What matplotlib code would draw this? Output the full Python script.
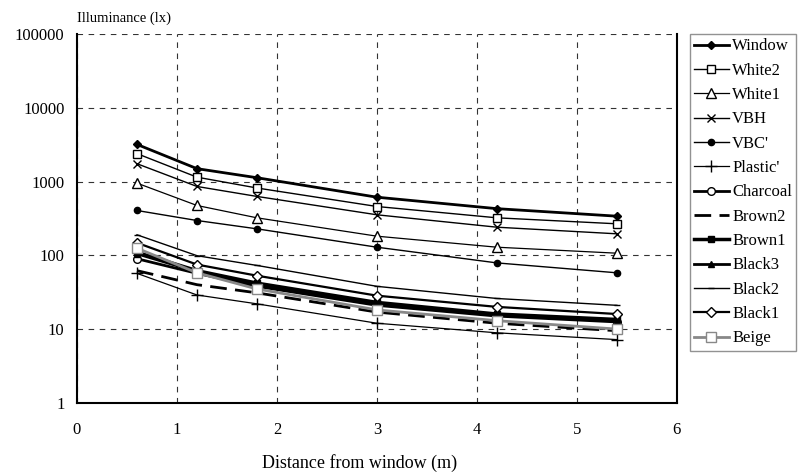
import numpy as np
import matplotlib.pyplot as plt

plt.rcParams['font.family'] = ['Liberation Serif', 'DejaVu Serif']

# Distance from window (m)
dist = [0.6, 1.2, 1.8, 3.0, 4.2, 5.4]

# Illuminance (lx) for each case
window = [3200, 1500, 1130, 615, 430, 340]
white2 = [2400, 1150, 820, 460, 323, 268]
white1 = [955, 475, 323, 182, 129, 107]
vbh = [1750, 860, 630, 355, 241, 196]
vbc = [406, 297, 229, 129, 79, 58]
plastic = [57, 29, 22, 12, 8.9, 7.2]
charcoal = [90, 57, 38, 21, 15, 12.5]
brown2 = [62, 40, 31, 17, 12, 9.5]
brown1 = [110, 62, 42, 23, 16, 13.5]
black3 = [105, 60, 40, 22, 15.5, 13]
black2 = [190, 99, 73, 38, 26, 21]
black1 = [148, 75, 53, 28.4, 20, 16]
beige = [125, 58, 35, 18.2, 13, 10]

fig = plt.figure(figsize=(8.02, 4.75), dpi=100)
ax = fig.add_axes([0.096, 0.152, 0.748, 0.776])

k = dict(color='black')
ax.plot(dist, window, marker='D', ms=4.5, lw=2, label='Window', **k)
ax.plot(dist, white2, marker='s', ms=6, mfc='white', lw=1, label='White2', **k)
ax.plot(dist, white1, marker='^', ms=6.5, mfc='white', lw=0.9, label='White1', **k)
ax.plot(dist, vbh, marker='x', ms=6, lw=1, label='VBH', **k)
ax.plot(dist, vbc, marker='o', ms=4.5, lw=1, label="VBC'", **k)
ax.plot(dist, plastic, marker='+', ms=8, lw=0.9, label="Plastic'", **k)
ax.plot(dist, charcoal, marker='o', ms=5.5, mfc='white', lw=2, label='Charcoal', **k)
ax.plot(dist, brown2, ls=(0, (6, 3)), lw=2, label='Brown2', **k)
ax.plot(dist, brown1, marker='s', ms=4.5, lw=2.5, label='Brown1', **k)
ax.plot(dist, black3, marker='^', ms=5, lw=2, label='Black3', **k)
ax.plot(dist, black2, marker='_', ms=5, lw=1, label='Black2', **k)
ax.plot(dist, black1, marker='D', ms=5, mfc='white', lw=1.6, label='Black1', **k)
ax.plot(dist, beige, marker='s', ms=6.5, mfc='white', color='#888888', lw=2, label='Beige')

ax.set_yscale('log')
ax.set_xlim(0, 6)
ax.set_ylim(1, 100000)
ax.set_yticks([1, 10, 100, 1000, 10000, 100000])
ax.set_yticklabels(['1', '10', '100', '1000', '10000', '100000'])
ax.minorticks_off()
ax.tick_params(length=0, labelsize=12)
ax.tick_params(axis='y', pad=9)
ax.tick_params(axis='x', pad=14)

ax.grid(True, color='#333333', ls=(0, (5, 5)), lw=0.8)
ax.spines['top'].set_visible(False)
for s in ['left', 'bottom', 'right']:
    ax.spines[s].set_linewidth(1.5)

fig.text(360 / 802, 1 - 463 / 475, 'Distance from window (m)', fontsize=13,
         ha='center', va='center')
fig.text(0.096, 1 - 25 / 475, 'Illuminance (lx)', fontsize=10.5, ha='left', va='bottom')

leg = fig.legend(loc='upper left', bbox_to_anchor=(0.860, 0.928), fontsize=12,
                 frameon=True, fancybox=False, edgecolor='#777777',
                 borderaxespad=0, borderpad=0.25, labelspacing=0.5,
                 handlelength=2.1, handletextpad=0.2)
leg.get_frame().set_linewidth(1.0)

fig.savefig('out.png', dpi=100)
